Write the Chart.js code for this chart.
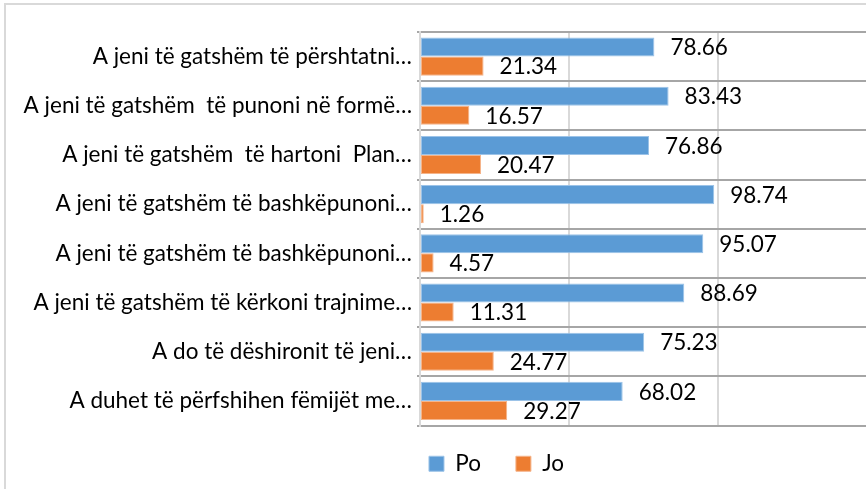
<!DOCTYPE html>
<html><head><meta charset="utf-8">
<script src="https://cdn.jsdelivr.net/npm/chart.js@4"></script>
<style>
html,body{margin:0;padding:0;background:#fff;overflow:hidden;}
#wrap{position:relative;width:866px;height:489px;overflow:hidden;background:#fff;}
#frame{position:absolute;left:4px;top:3px;width:900px;height:500px;border-left:2px solid #d9d9d9;border-top:2px solid #d9d9d9;pointer-events:none;}
canvas{position:absolute;left:0;top:0;}
</style></head><body>
<div id="wrap"><canvas id="c" width="993" height="489" style="width:993px;height:489px"></canvas><div id="frame"></div></div>
<script>
const categories = [
  'A jeni të gatshëm të përshtatni…',
  'A jeni të gatshëm  të punoni në formë…',
  'A jeni të gatshëm  të hartoni  Plan…',
  'A jeni të gatshëm të bashkëpunoni…',
  'A jeni të gatshëm të bashkëpunoni…',
  'A jeni të gatshëm të kërkoni trajnime…',
  'A do të dëshironit të jeni…',
  'A duhet të përfshihen fëmijët me…'
];
const poValues = [78.66, 83.43, 76.86, 98.74, 95.07, 88.69, 75.23, 68.02];
const joValues = [21.34, 16.57, 20.47, 1.26, 4.57, 11.31, 24.77, 29.27];
const seriesNames = ['Po', 'Jo'];

const FONT = 'Lato';
const FS = 22.5;

const valueLabels = {
  id: 'valueLabels',
  afterDatasetsDraw(chart) {
    const ctx = chart.ctx;
    ctx.save();
    ctx.font = FS + 'px ' + FONT;
    ctx.fillStyle = '#000';
    ctx.textAlign = 'left';
    ctx.textBaseline = 'middle';
    chart.data.datasets.forEach((ds, di) => {
      chart.getDatasetMeta(di).data.forEach((el, i) => {
        ctx.fillText(ds.data[i].toFixed(2), el.x + 16, el.y + 1);
      });
    });
    ctx.restore();
  }
};

new Chart(document.getElementById('c'), {
  type: 'bar',
  data: {
    labels: categories,
    datasets: [
      { label: seriesNames[0], data: poValues, backgroundColor: '#5b9bd5', borderColor: '#9cc3e8', borderWidth: 1, borderSkipped: false,
        categoryPercentage: 0.776, barPercentage: 1 },
      { label: seriesNames[1], data: joValues, backgroundColor: '#ed7d31', borderColor: '#f5b48a', borderWidth: 1, borderSkipped: false,
        categoryPercentage: 0.776, barPercentage: 1 }
    ]
  },
  options: {
    indexAxis: 'y',
    responsive: false,
    animation: false,
    devicePixelRatio: 1,
    layout: { padding: { top: 32, left: 0, right: 0, bottom: -4 } },
    font: { family: FONT },
    scales: {
      x: {
        min: 0, max: 192.3,
        afterFit(scale) { scale.height = -8; },
        ticks: { display: false, stepSize: 50 },
        grid: { color: '#d9d9d9', lineWidth: 2, drawTicks: false },
        border: { display: false }
      },
      y: {
        afterFit(scale) { scale.width = 420; },
        ticks: { color: '#000', font: { family: FONT, size: FS }, padding: 5 },
        grid: { offset: true, color: '#a6a6a6', lineWidth: 2, tickLength: 3 },
        border: { display: true, color: '#d9d9d9', width: 2 }
      }
    },
    plugins: {
      legend: {
        position: 'bottom',
        labels: { boxWidth: 15, boxHeight: 15, padding: 35, color: '#000', font: { family: FONT, size: FS } }
      },
      tooltip: { enabled: false }
    }
  },
  plugins: [valueLabels]
});
</script>
</body></html>
